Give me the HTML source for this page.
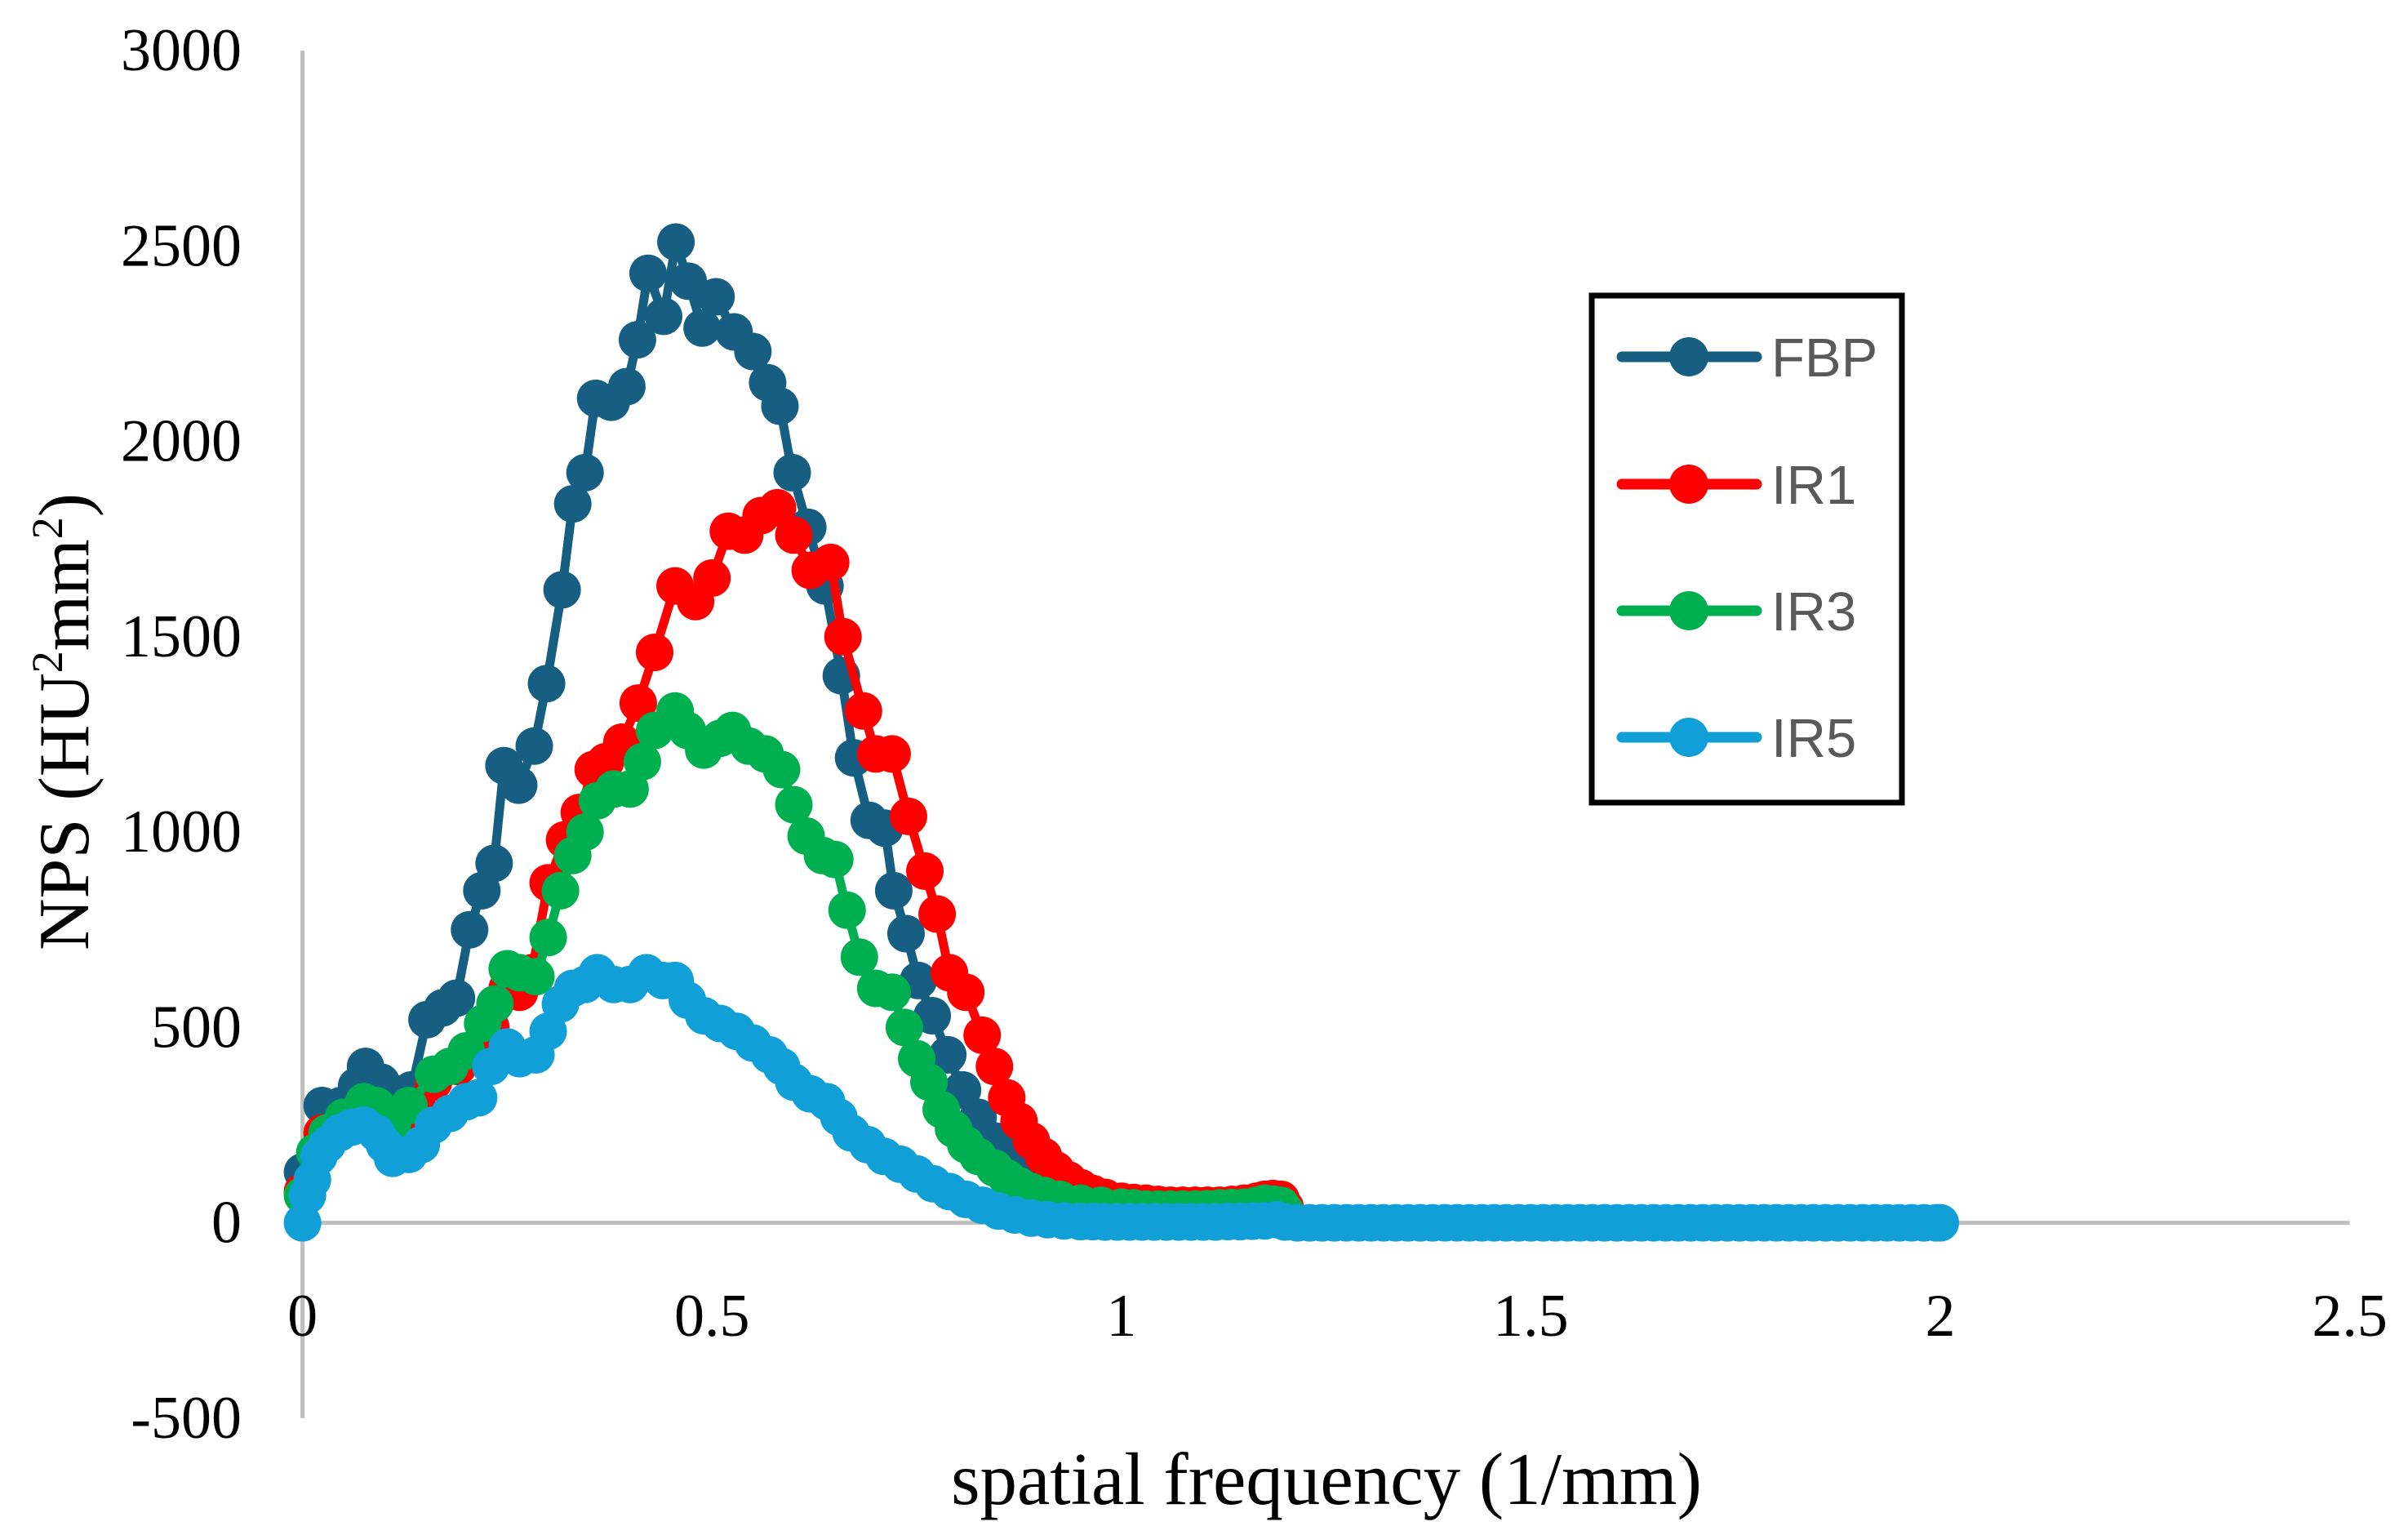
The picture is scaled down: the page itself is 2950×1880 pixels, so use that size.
<!DOCTYPE html>
<html><head><meta charset="utf-8"><style>
html,body{margin:0;padding:0;background:#fff;}
svg{display:block;}
</style></head><body>
<svg id="chart" width="2950" height="1880" viewBox="0 0 2950 1880" xmlns="http://www.w3.org/2000/svg">
<g id="axes"></g>
<g id="plot"></g>
<g id="legend">
  <rect x="1950" y="362" width="380" height="621" fill="#fff" stroke="#000" stroke-width="7"/>
</g>
<text x="1625" y="1842" font-family="Liberation Serif, serif" font-size="91" text-anchor="middle" fill="#000">spatial frequency (1/mm)</text>
<text transform="translate(108,884) rotate(-90)" font-family="Liberation Serif, serif" font-size="88" text-anchor="middle" fill="#000">NPS (HU<tspan font-size="54" dy="-32">2</tspan><tspan dy="32">mm</tspan><tspan font-size="54" dy="-32">2</tspan><tspan dy="32">)</tspan></text>
</svg>
<script>
const xTicks=[0,0.5,1,1.5,2,2.5];
const xTickLabels=["0","0.5","1","1.5","2","2.5"];
const yTicks=[-500,0,500,1000,1500,2000,2500,3000];
const yTickLabels=["-500","0","500","1000","1500","2000","2500","3000"];
const seriesNames=["FBP","IR1","IR3","IR5"];
const seriesColors=["#175f82","#ff0000","#00b050","#109fd6"];

const fbpX=[0,0.024,0.047,0.066,0.077,0.096,0.114,0.133,0.152,0.171,0.188,0.204,0.219,0.234,0.246,0.264,0.283,0.298,0.317,0.330,0.345,0.358,0.377,0.396,0.409,0.422,0.441,0.456,0.471,0.488,0.505,0.527,0.550,0.568,0.583,0.598,0.617,0.638,0.658,0.673,0.692,0.711,0.722,0.737,0.752,0.769,0.788,0.806,0.825,0.844,0.861,0.880,0.900,0.915,0.93,0.945,0.96,0.975,0.99,1.005,1.02,1.035,1.05,1.065,1.08,1.095,1.11,1.125,1.14,1.155,1.17,1.185,1.2];
const fbpY=[130,300,300,350,400,360,330,340,520,550,575,750,850,920,1170,1120,1220,1380,1620,1840,1920,2110,2100,2140,2260,2430,2320,2510,2410,2290,2370,2280,2230,2150,2090,1920,1780,1630,1400,1190,1030,1010,850,740,620,530,430,340,270,210,170,135,100,85,70,60,52,48,45,42,40,38,36,35,35,35,36,38,40,42,45,45,30];

const ir1X=[0,0.024,0.05,0.08,0.1,0.12,0.14,0.16,0.19,0.21,0.23,0.25,0.265,0.28,0.3,0.32,0.338,0.355,0.37,0.39,0.41,0.43,0.455,0.48,0.5,0.52,0.54,0.56,0.58,0.6,0.62,0.645,0.66,0.685,0.7,0.72,0.74,0.76,0.775,0.79,0.81,0.83,0.845,0.86,0.875,0.89,0.905,0.92,0.935,0.95,0.965,0.98,1.0,1.015,1.03,1.045,1.06,1.075,1.09,1.105,1.12,1.135,1.15,1.165,1.175,1.185,1.195,1.2];
const ir1Y=[80,230,260,290,260,230,300,360,400,430,500,600,590,640,870,980,1050,1160,1180,1230,1330,1460,1630,1590,1650,1770,1760,1810,1830,1760,1670,1690,1500,1310,1200,1200,1040,900,790,640,590,480,400,320,260,210,170,135,110,90,75,65,55,52,50,47,45,45,45,45,45,47,50,55,60,62,60,40];

const ir3X=[0,0.015,0.03,0.05,0.075,0.09,0.11,0.13,0.16,0.18,0.2,0.22,0.235,0.25,0.265,0.285,0.3,0.315,0.33,0.345,0.36,0.38,0.4,0.415,0.43,0.455,0.47,0.49,0.51,0.525,0.545,0.565,0.585,0.6,0.615,0.635,0.65,0.665,0.68,0.7,0.72,0.735,0.75,0.765,0.78,0.795,0.81,0.825,0.845,0.86,0.875,0.89,0.905,0.925,0.95,0.975,1.0,1.015,1.03,1.045,1.06,1.075,1.09,1.105,1.12,1.135,1.15,1.165,1.175,1.185,1.195,1.2];
const ir3Y=[70,180,230,270,310,300,250,300,380,400,440,510,560,650,640,630,730,850,940,1000,1080,1110,1110,1180,1260,1310,1260,1210,1240,1260,1220,1200,1160,1070,990,940,930,800,680,600,590,500,420,360,290,240,200,170,140,115,95,80,70,60,50,45,40,38,35,35,35,35,35,36,38,39,40,45,50,48,45,30];

const ir5X=[0,0.006,0.012,0.02,0.03,0.045,0.06,0.075,0.09,0.1,0.11,0.13,0.145,0.16,0.18,0.2,0.215,0.23,0.25,0.265,0.285,0.3,0.315,0.33,0.345,0.36,0.38,0.4,0.42,0.44,0.455,0.47,0.49,0.51,0.53,0.55,0.57,0.585,0.6,0.62,0.64,0.655,0.67,0.69,0.71,0.73,0.75,0.77,0.79,0.81,0.83,0.85,0.87,0.89,0.91,0.93,0.95,0.965,0.98,0.995,1.01,1.025,1.04,1.055,1.07,1.085,1.1,1.115,1.13,1.145,1.16,1.175,1.19,1.2,1.215,1.23,1.245,1.26,1.275,1.29,1.305,1.32,1.335,1.35,1.365,1.38,1.395,1.41,1.425,1.44,1.455,1.47,1.485,1.5,1.515,1.53,1.545,1.56,1.575,1.59,1.605,1.62,1.635,1.65,1.665,1.68,1.695,1.71,1.725,1.74,1.755,1.77,1.785,1.8,1.815,1.83,1.845,1.86,1.875,1.89,1.905,1.92,1.935,1.95,1.965,1.98,1.995,2.0];
const ir5Y=[0,70,110,170,200,230,245,250,230,200,165,175,200,250,280,310,320,400,450,420,430,490,560,600,610,640,610,610,640,620,620,570,530,510,490,460,430,400,360,330,310,270,230,200,170,150,125,100,80,60,45,30,20,12,8,5,3,3,2,2,2,2,2,2,2,2,2,2,3,3,4,5,8,2,0,0,0,0,0,0,0,0,0,0,0,0,0,0,0,0,0,0,0,0,0,0,0,0,0,0,0,0,0,0,0,0,0,0,0,0,0,0,0,0,0,0,0,0,0,0,0,0,0,0,0,0,0,0];

const NS="http://www.w3.org/2000/svg";
const X0=370.6, XU=1003.2, Y0=1497.6, YU=(1497.6-62)/3000;
function sx(v){return X0+v*XU;}
function sy(v){return Y0-v*YU;}
function mk(tag,attrs,parent){const e=document.createElementNS(NS,tag);for(const k in attrs)e.setAttribute(k,attrs[k]);parent.appendChild(e);return e;}

const axes=document.getElementById('axes');
let l=mk('line',{x1:sx(0),y1:sy(3000),x2:sx(0),y2:sy(-500),stroke:'#bfbfbf','stroke-width':5},axes);


l=mk('line',{x1:sx(0),y1:sy(0),x2:sx(2.5),y2:sy(0),stroke:'#bfbfbf','stroke-width':5},axes);


yTicks.forEach((v,i)=>{
  const t=mk('text',{x:296,y:sy(v)+24,'font-family':'Liberation Serif, serif','font-size':74,'text-anchor':'end',fill:'#000'},axes);
  t.textContent=yTickLabels[i];
  
  
});
xTicks.forEach((v,i)=>{
  const t=mk('text',{x:sx(v),y:1636,'font-family':'Liberation Serif, serif','font-size':74,'text-anchor':'middle',fill:'#000'},axes);
  t.textContent=xTickLabels[i];
  
  
});

const plot=document.getElementById('plot');
const allX=[fbpX,ir1X,ir3X,ir5X], allY=[fbpY,ir1Y,ir3Y,ir5Y];
allX.forEach((xs,si)=>{
  const g=mk('g',{},plot);
  
  
  const pts=xs.map((x,i)=>sx(x).toFixed(1)+','+sy(allY[si][i]).toFixed(1)).join(' ');
  const pl=mk('polyline',{points:pts,fill:'none',stroke:seriesColors[si],'stroke-width':11,'stroke-linejoin':'round'},g);
  
  
  xs.forEach((x,i)=>{
    const c=mk('circle',{cx:sx(x),cy:sy(allY[si][i]),r:23,fill:seriesColors[si]},g);
    
    
  });
});

const leg=document.getElementById('legend');
const rowY=[437,593,748,903];
seriesNames.forEach((n,i)=>{
  const g=mk('g',{},leg);
  
  
  mk('line',{x1:1987,y1:rowY[i],x2:2152,y2:rowY[i],stroke:seriesColors[i],'stroke-width':13,'stroke-linecap':'round'},g);
  mk('circle',{cx:2069,cy:rowY[i],r:24,fill:seriesColors[i]},g);
  const t=mk('text',{x:2170,y:rowY[i]+24,'font-family':'Liberation Sans, sans-serif','font-size':67,fill:'#595959'},g);
  t.textContent=n;
});
</script>
</body></html>
